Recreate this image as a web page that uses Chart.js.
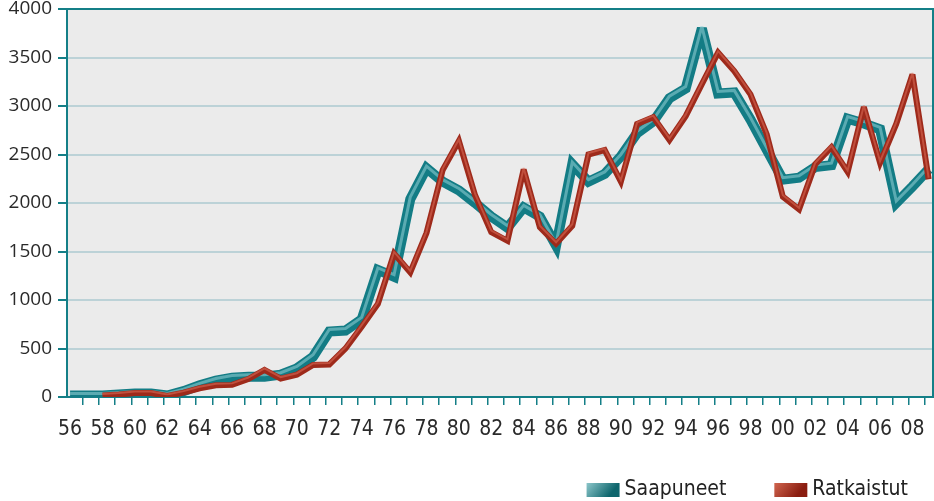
<!DOCTYPE html>
<html>
<head>
<meta charset="utf-8">
<script src="https://cdn.jsdelivr.net/npm/chart.js@4.4.0/dist/chart.umd.min.js"></script>
<style>
  html, body { margin: 0; padding: 0; background: #fff; }
  #wrap { width: 934px; height: 501px; }
</style>
</head>
<body>
<div id="wrap"><canvas id="myChart"></canvas></div>
<script>
const years = [1956, 1957, 1958, 1959, 1960, 1961, 1962, 1963, 1964, 1965,
               1966, 1967, 1968, 1969, 1970, 1971, 1972, 1973, 1974, 1975,
               1976, 1977, 1978, 1979, 1980, 1981, 1982, 1983, 1984, 1985,
               1986, 1987, 1988, 1989, 1990, 1991, 1992, 1993, 1994, 1995,
               1996, 1997, 1998, 1999, 2000, 2001, 2002, 2003, 2004, 2005,
               2006, 2007, 2008, 2009];

const saapuneet = [15, 15, 15, 25, 35, 35, 15, 60, 120, 170,
                   200, 210, 210, 230, 295, 415, 675, 685, 800, 1310,
                   1240, 2040, 2360, 2220, 2130, 2000, 1860, 1745, 1955, 1860,
                   1560, 2400, 2220, 2300, 2480, 2720, 2840, 3080, 3180, 3800,
                   3130, 3140, 2860, 2550, 2240, 2260, 2370, 2390, 2870, 2820,
                   2760, 2000, 2170, 2350];

const ratkaistut = [null, null, 15, 25, 40, 40, 10, 45, 90, 120,
                    125, 185, 280, 190, 230, 330, 335, 500, 725, 960,
                    1480, 1285, 1690, 2340, 2640, 2080, 1700, 1610, 2345, 1750,
                    1580, 1765, 2500, 2546, 2220, 2815, 2885, 2650, 2895, 3225,
                    3550, 3360, 3120, 2710, 2065, 1935, 2400, 2575, 2320, 2990,
                    2415, 2815, 3325, 2245];

const yTicks = [0, 500, 1000, 1500, 2000, 2500, 3000, 3500, 4000];

const teal = '#147f87';
const red = '#9e2a1b';

function points(vals) {
    return years.map((yr, i) => ({x: yr, y: vals[i]}));
}

// background, frame and legend
const frame = {
    id: 'frame',
    beforeDraw(chart) {
        const {ctx, chartArea: a} = chart;
        ctx.save();
        ctx.fillStyle = '#ebebeb';
        ctx.fillRect(a.left, a.top, a.right - a.left, a.bottom - a.top);
        ctx.restore();
    },
    beforeDatasetDraw(chart, args) {
        const ds = chart.data.datasets[args.index];
        chart.ctx.save();
        chart.ctx.miterLimit = 3.5;
        if (ds.shift) chart.ctx.translate(0, -ds.shift);
    },
    afterDatasetDraw(chart) {
        chart.ctx.restore();
    },
    afterDraw(chart) {
        const {ctx, chartArea: a} = chart;
        ctx.save();
        ctx.strokeStyle = teal;
        ctx.lineWidth = 2;
        ctx.beginPath();
        ctx.moveTo(a.left, a.top);
        ctx.lineTo(a.right - 1, a.top);
        ctx.lineTo(a.right - 1, a.bottom);
        ctx.stroke();

        // legend
        const items = chart.data.datasets.filter(d => d.legendColors);
        ctx.font = '21px "Liberation Sans Narrow", "DejaVu Sans Condensed", sans-serif';
        ctx.textBaseline = 'middle';
        const cy = chart.height - 11;
        let right = chart.width - 26;
        for (let i = items.length - 1; i >= 0; i--) {
            const it = items[i];
            const w = ctx.measureText(it.label).width;
            const tx = right - w;
            const bx = tx - 5 - 33;
            const g = ctx.createLinearGradient(bx, cy - 7, bx + 20, cy + 9);
            g.addColorStop(0, it.legendColors[0]);
            g.addColorStop(1, it.legendColors[1]);
            ctx.fillStyle = g;
            ctx.fillRect(bx, cy - 7, 33, 14);
            ctx.fillStyle = '#222';
            ctx.fillText(it.label, tx, cy);
            right = bx - 48;
        }
        ctx.restore();
    }
};

const config = {
    type: 'line',
    data: {
        datasets: [
            {
                label: 'Saapuneet',
                data: points(saapuneet),
                xAxisID: 'x',
                yAxisID: 'y',
                borderColor: '#137c85',
                borderWidth: 10,
                legendColors: ['#8cc6ca', '#0e666d'],
                order: 4,
            },
            {
                label: 'Saapuneet-hl',
                data: points(saapuneet),
                xAxisID: 'x',
                yAxisID: 'y',
                borderColor: 'rgba(150, 210, 215, 0.55)',
                borderWidth: 3,
                shift: 2,
                order: 3,
            },
            {
                label: 'Ratkaistut',
                data: points(ratkaistut),
                xAxisID: 'x',
                yAxisID: 'y',
                borderColor: red,
                borderWidth: 6,
                legendColors: ['#d0654f', '#8a1d10'],
                order: 2,
            },
            {
                label: 'Ratkaistut-hl',
                data: points(ratkaistut),
                xAxisID: 'x',
                yAxisID: 'y',
                borderColor: 'rgba(220, 110, 90, 0.55)',
                borderWidth: 2,
                shift: 1.5,
                order: 1,
            },
        ]
    },
    options: {
        responsive: true,
        maintainAspectRatio: false,
        animation: false,
        events: [],
        datasets: {
            line: {
                tension: 0,
                pointRadius: 0,
                borderJoinStyle: 'miter',
                borderCapStyle: 'butt',
            }
        },
        layout: { padding: { top: 0, right: 0, left: 0, bottom: 0 } },
        plugins: {
            legend: { display: false },
            tooltip: { enabled: false },
        },
        scales: {
            y: {
                min: 0,
                max: 4000,
                afterBuildTicks: (s) => { s.ticks = yTicks.map(v => ({value: v})); },
                afterFit: (s) => { s.width = 67; s.paddingTop = 9; },
                ticks: {
                    callback: (v) => String(v),
                    color: '#2a2a2a',
                    padding: 6,
                    font: { family: '"Open Sans", "Noto Sans", sans-serif', size: 19, lineHeight: 1 },
                },
                grid: {
                    color: (c) => c.tick && c.tick.value === 4000 ? teal : '#bcd2d7',
                    lineWidth: 2,
                    tickColor: teal,
                    tickLength: 9,
                },
                border: { color: teal, width: 2 },
            },
            xt: {
                type: 'linear',
                position: 'bottom',
                weight: 0,
                min: 0.031,
                max: 53.55,
                afterFit: (s) => { s.height = 8; },
                ticks: { display: false, stepSize: 1, includeBounds: false },
                grid: { drawOnChartArea: false, color: teal, tickLength: 8, lineWidth: 1.5 },
                border: { color: teal, width: 2 },
            },
            x: {
                type: 'linear',
                position: 'bottom',
                weight: 1,
                min: 1955.81,
                max: 2009.33,
                afterFit: (s) => { s.height = 96; },
                ticks: {
                    stepSize: 2,
                    includeBounds: false,
                    autoSkip: false,
                    maxRotation: 0,
                    padding: 4,
                    color: '#2a2a2a',
                    font: { family: '"Liberation Sans Narrow", "DejaVu Sans Condensed", sans-serif', size: 21 },
                    callback: (v) => String(v % 100).padStart(2, '0'),
                },
                grid: { display: false },
                border: { display: false },
            },
        }
    },
    plugins: [frame]
};

const myChart = new Chart(document.getElementById('myChart'), config);
</script>
</body>
</html>
